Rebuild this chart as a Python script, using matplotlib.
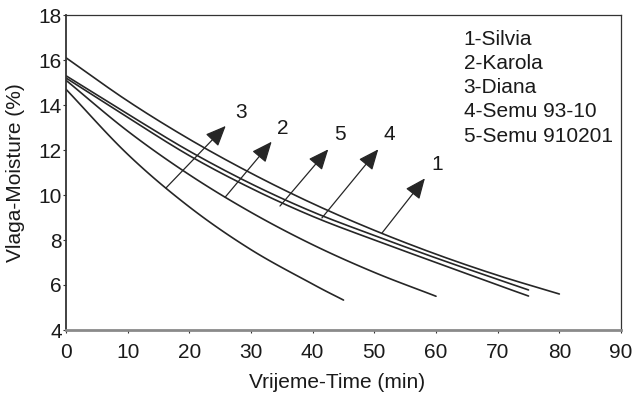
import matplotlib
matplotlib.use("Agg")
import matplotlib.pyplot as plt
import numpy as np

plt.rcParams['font.family'] = ['Liberation Sans', 'DejaVu Sans']

# ---- data ----
t1 = [0, 10, 20, 30, 40, 50, 60, 70, 80]
silvia = [16.1, 14.18, 12.48, 10.97, 9.62, 8.43, 7.37, 6.43, 5.6]

t2 = [0, 10, 20, 30, 40, 50, 60]
karola = [15.1, 12.84, 10.9, 9.23, 7.79, 6.56, 5.5]

t3 = [0, 10, 20, 30, 40, 45]
diana = [14.7, 11.81, 9.47, 7.57, 6.04, 5.33]

t4 = [0, 10, 20, 30, 40, 50, 60, 70, 75]
semu9310 = [15.3, 13.6, 11.95, 10.5, 9.25, 8.2, 7.2, 6.25, 5.78]

t5 = [0, 10, 20, 30, 40, 50, 60, 70, 75]
semu910201 = [15.2, 13.45, 11.75, 10.3, 9.05, 8.0, 7.0, 6.0, 5.51]

legend_lines = ["1-Silvia", "2-Karola", "3-Diana", "4-Semu 93-10", "5-Semu 910201"]
arrow_labels = ["3", "2", "5", "4", "1"]

xticks = [0, 10, 20, 30, 40, 50, 60, 70, 80, 90]
yticks = [4, 6, 8, 10, 12, 14, 16, 18]

# ---- figure ----
fig = plt.figure(figsize=(6.34, 3.96), dpi=100)
ax = fig.add_axes([66/634, 1-330/396, 555/634, 315/396])

lc = '#262626'

def smooth(t, y):
    # Catmull-Rom spline through the read points
    P = np.array(list(zip(t, y)), dtype=float)
    pts = [P[0]]
    ext = np.vstack([2*P[0]-P[1], P, 2*P[-1]-P[-2]])
    for i in range(1, len(ext)-2):
        p0, p1, p2, p3 = ext[i-1], ext[i], ext[i+1], ext[i+2]
        for s in np.linspace(0, 1, 20)[1:]:
            s2, s3 = s*s, s*s*s
            pt = 0.5*((2*p1) + (-p0+p2)*s + (2*p0-5*p1+4*p2-p3)*s2 + (-p0+3*p1-3*p2+p3)*s3)
            pts.append(pt)
    pts = np.array(pts)
    return pts[:, 0], pts[:, 1]

for t, y in [(t1, silvia), (t2, karola), (t3, diana), (t4, semu9310), (t5, semu910201)]:
    xs, ys = smooth(t, y)
    ax.plot(xs, ys, color=lc, lw=1.2, solid_capstyle='round')

ax.set_xlim(0, 90)
ax.set_ylim(4, 18)
ax.set_xticks(xticks)
ax.set_yticks(yticks)
ax.tick_params(axis='both', direction='out', length=2, width=0.8, color='#333333',
               labelsize=15, labelcolor='#1a1a1a')
ax.tick_params(axis='y', pad=1)
ax.tick_params(axis='x', pad=7)

for s in ['top', 'right']:
    ax.spines[s].set_linewidth(0.9)
    ax.spines[s].set_color('#333333')
ax.spines['left'].set_linewidth(1.3)
ax.spines['left'].set_color('#333333')
ax.spines['bottom'].set_linewidth(2.0)
ax.spines['bottom'].set_color('#8a8a8a')

ax.set_xlabel('Vrijeme-Time (min)', fontsize=15, color='#1a1a1a')
ax.set_ylabel('Vlaga-Moisture (%)', fontsize=15, color='#1a1a1a')
ax.xaxis.set_label_coords(0.489, -0.135)
ax.yaxis.set_label_coords(-0.074, 0.5)

# legend text block
leg_y = [16.67, 15.6, 14.53, 13.47, 12.36]
for txt, yy in zip(legend_lines, leg_y):
    ax.text(64.5, yy, txt, fontsize=15, color='#1a1a1a', va='baseline', ha='left')

# arrows (tail on curve -> head) and labels
tails = [(16.2, 10.31), (25.8, 9.9), (34.7, 9.51), (41.5, 8.98), (51.24, 8.31)]
heads = [(25.9, 13.07), (33.35, 12.37), (42.53, 12.03), (50.64, 12.03), (58.2, 10.74)]
label_pos = [(28.4, 13.67), (35.1, 12.96), (44.5, 12.67), (52.5, 12.69), (60.2, 11.36)]
for lab, tl, hd, lp in zip(arrow_labels, tails, heads, label_pos):
    ax.annotate('', xy=hd, xytext=tl,
                arrowprops=dict(arrowstyle='-|>,head_length=0.7,head_width=0.3',
                                color=lc, lw=0.9, mutation_scale=18,
                                shrinkA=0, shrinkB=0))
    ax.text(lp[0], lp[1], lab, fontsize=15, color='#1a1a1a', ha='center', va='center')

fig.savefig('out.png', dpi=100)
